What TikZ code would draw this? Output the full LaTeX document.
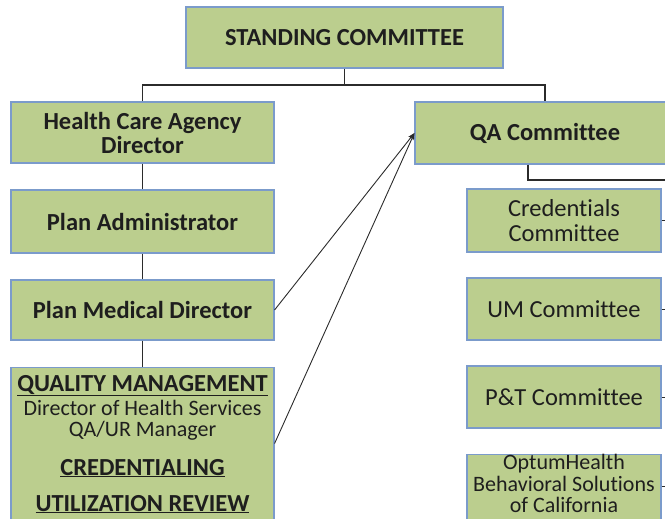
\documentclass[tikz,border=0pt]{standalone}
\usepackage{fontspec}
\setmainfont{Carlito}[Ligatures=NoCommon]
\usetikzlibrary{arrows.meta}
\definecolor{boxfill}{HTML}{BBCE8E}
\definecolor{boxline}{HTML}{7B9BCB}
\definecolor{ink}{HTML}{1E1E1E}
\definecolor{wirecol}{HTML}{2B2B2B}

\begin{document}
\begin{tikzpicture}[x=1pt,y=1pt,
  box/.style={draw=boxline, fill=boxfill, line width=1.1pt, text=ink, align=center, inner sep=0pt},
  head/.style={font=\fontsize{24.5}{24}\selectfont\bfseries, text=ink},
  body/.style={font=\fontsize{24.5}{24.5}\selectfont, text=ink},
  small/.style={font=\fontsize{22}{22.5}\selectfont, text=ink},
  wire/.style={draw=wirecol, line width=1.3pt},
  stub/.style={draw=wirecol, line width=0.8pt},
  link/.style={draw=wirecol, line width=0.9pt, -{Stealth[length=7pt,width=5pt]}}
]
\useasboundingbox (0,0) rectangle (665,-519);
\clip (0,0) rectangle (665,-519);

% top of the chart
\node[box, head, minimum width=317, minimum height=61] (std) at (344.5,-37.5) {STANDING COMMITTEE};

% left column
\node[box, head, minimum width=263, minimum height=61] (hca) at (142.5,-132.5) {Health Care Agency\\Director};
\node[box, head, minimum width=263, minimum height=63] (pa) at (142.5,-221.5) {Plan Administrator};
\node[box, head, minimum width=263, minimum height=60] (pmd) at (142.5,-310) {Plan Medical Director};
\node[box, minimum width=263, minimum height=170, anchor=north] (qm) at (142.5,-367) {};
\node[head, anchor=base, inner sep=0pt] (qmA) at (142.5,-391) {\underline{QUALITY MANAGEMENT}};
\node[small, anchor=base, inner sep=0pt] (qmB) at (142.5,-415) {Director of Health Services};
\node[small, anchor=base, inner sep=0pt] (qmC) at (142.5,-436) {QA/UR Manager};
\node[head, anchor=base, inner sep=0pt] (qmD) at (142.5,-475) {\underline{CREDENTIALING}};
\node[head, anchor=base, inner sep=0pt] (qmE) at (142.5,-511) {\underline{UTILIZATION REVIEW}};

% right column
\node[box, head, minimum width=260, minimum height=62] (qa) at (545,-133) {QA Committee};
\node[box, body, minimum width=194, minimum height=63] (cred) at (564,-220.5) {Credentials\\Committee};
\node[box, body, minimum width=194, minimum height=62] (um) at (564,-309) {UM Committee};
\node[box, body, minimum width=194, minimum height=62] (pt) at (564,-397) {P\&T Committee};
\node[box, minimum width=194, minimum height=80, anchor=north] (opt) at (564,-454) {};
\node[small, anchor=base, inner sep=0pt] (optA) at (564,-469) {OptumHealth};
\node[small, anchor=base, inner sep=0pt] (optB) at (564,-491) {Behavioral Solutions};
\node[small, anchor=base, inner sep=0pt] (optC) at (564,-512.5) {of California};

% reporting lines
\coordinate (bus) at (344.5,-85);
\draw[wire] (std.south) -- (bus);
\draw[wire] (hca.north) |- (bus) -| (qa.north);
\draw[wire] (hca) -- (pa);
\draw[wire] (pa) -- (pmd);
\draw[wire] (pmd.south) -- (qm.north);

\coordinate (subbus) at (690,-180);
\draw[wire] ([xshift=-17]qa.south) |- (subbus);

\coordinate (rail) at (690,0);
\draw[stub] (cred.east) -- (cred.east -| rail);
\draw[stub] (um.east) -- (um.east -| rail);
\draw[stub] (pt.east) -- (pt.east -| rail);
\draw[stub] ([yshift=-32]opt.north east) -- ([yshift=-32]opt.north east -| rail);

% dotted-line reporting to the QA committee
\draw[link] (pmd.east) -- (qa.west);
\draw[link] ([yshift=9]qm.east) -- (qa.west);
\end{tikzpicture}
\end{document}
